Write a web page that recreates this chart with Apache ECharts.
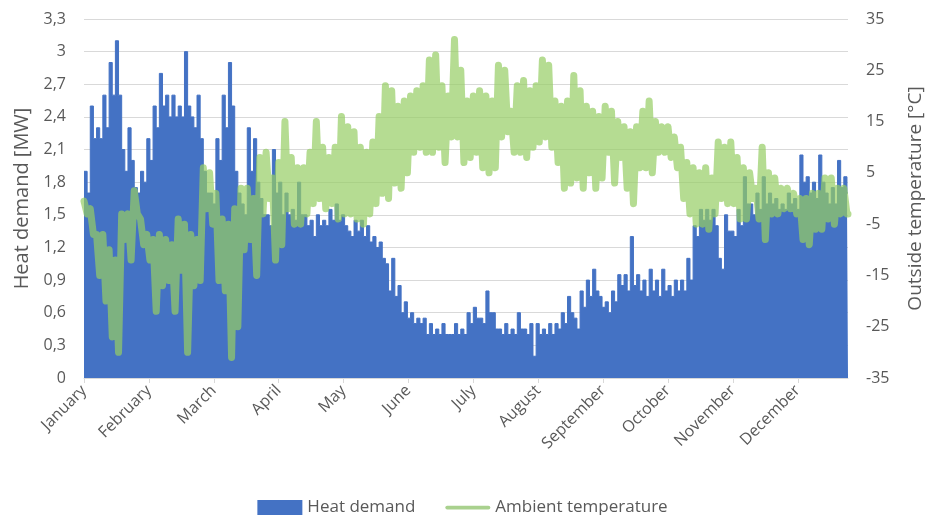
<!DOCTYPE html>
<html>
<head>
<meta charset="utf-8">
<title>Heat demand and ambient temperature</title>
<script src="https://cdn.jsdelivr.net/npm/echarts@6/dist/echarts.min.js"></script>
<style>
    html, body { margin: 0; padding: 0; background: #fff; }
    #heat_chart { width: 925px; height: 515px; }
</style>
</head>
<body>
<div id="heat_chart"></div>
<script>

// Chart data
// ------------------------------

// Month labels and the day on which each label sits (Excel ticks every 31 days)
var monthNames = ['January', 'February', 'March', 'April', 'May', 'June',
    'July', 'August', 'September', 'October', 'November', 'December'];
var monthTickDays = [0, 31, 62, 93, 124, 155, 186, 217, 248, 279, 310, 341];

// Each value covers 3 days: high in first half of the bin, low in second half
var binDays = 3;

// Heat demand [MW]
var heatHigh = [
    1.9, 2.5, 2.3, 2.6, 2.9, 3.1, 2.1, 2.3, 1.75, 1.9, 2.2, 2.5, 2.8, 2.6, 2.6, 2.5, 3.0, 2.4, 2.6, 1.9, 1.7,
    2.2, 2.6, 2.9, 1.9, 1.6, 2.3, 2.2, 1.65, 1.5, 2.1, 1.8, 1.7, 1.55, 1.8, 1.5, 1.45, 1.5, 1.45, 1.55, 1.6, 1.5,
    1.35, 1.45, 1.45, 1.4, 1.3, 1.25, 1.05, 1.1, 0.85, 0.7, 0.6, 0.55, 0.55, 0.5, 0.45, 0.5, 0.4, 0.5, 0.45, 0.6,
    0.65, 0.55, 0.8, 0.6, 0.45, 0.5, 0.45, 0.6, 0.45, 0.5, 0.5, 0.45, 0.5, 0.5, 0.6, 0.75, 0.55, 0.8, 0.9, 1.0, 0.75,
    0.7, 0.8, 0.95, 0.95, 1.3, 0.95, 0.9, 1.0, 0.9, 1.0, 0.85, 0.9, 0.9, 1.1, 1.4, 1.55, 1.55, 1.55, 1.1, 1.5, 1.35,
    1.55, 1.85, 1.6, 1.7, 1.85, 1.7, 1.65, 1.6, 1.7, 1.65, 2.05, 1.85, 1.8, 2.05, 1.7, 1.75, 2.0, 1.85
];
var heatLow = [
    1.7, 2.2, 2.2, 2.3, 2.6, 2.6, 1.9, 2.0, 1.7, 1.8, 2.0, 2.3, 2.5, 2.4, 2.4, 2.4, 2.5, 2.3, 2.2, 1.7, 1.6,
    2.0, 2.3, 2.5, 1.7, 1.5, 1.9, 1.8, 1.5, 1.4, 1.7, 1.5, 1.5, 1.45, 1.5, 1.4, 1.3, 1.4, 1.4, 1.45, 1.45, 1.4,
    1.3, 1.35, 1.3, 1.25, 1.2, 1.1, 0.8, 0.75, 0.6, 0.55, 0.5, 0.5, 0.4, 0.4, 0.4, 0.4, 0.4, 0.4, 0.4, 0.5,
    0.55, 0.5, 0.6, 0.45, 0.4, 0.4, 0.4, 0.45, 0.4, 0.2, 0.4, 0.4, 0.4, 0.45, 0.5, 0.6, 0.45, 0.65, 0.75, 0.8, 0.65,
    0.6, 0.7, 0.85, 0.8, 0.85, 0.8, 0.75, 0.8, 0.75, 0.8, 0.75, 0.8, 0.8, 0.9, 1.3, 1.45, 1.45, 1.4, 1.0, 1.35, 1.3,
    1.4, 1.6, 1.5, 1.55, 1.6, 1.6, 1.55, 1.55, 1.6, 1.55, 1.8, 1.7, 1.65, 1.8, 1.6, 1.6, 1.75, 1.7
];

// Ambient temperature [°C]
var tempHigh = [
    -0.5, -2, -7, -7, -10, -12, -3, -3, 1.5, -4, -7, -8, -7, -8, -9, -4, -5, -7, -8, 6, 5,
    1, -4, -5, -2, 2, 2, 0, 8, 9, 4, 7, 15, 8, 6, 6, 9, 15, 10, 8, 10, 16,
    14, 13, 10, 9, 11, 16, 22, 21, 18, 19, 20, 21, 22, 27, 28, 22, 20, 31, 25, 19,
    20, 21, 20, 19, 26, 25, 17, 22, 23, 21, 22, 27, 26, 19, 18, 19, 24, 21, 18, 17, 16,
    18, 17, 15, 14, 13, 14, 17, 19, 15, 14, 14, 12, 10, 7, 6, 5, 6, 4, 11, 10, 11,
    8, 6, 5, 2, 10, 5, 4, 2, 2, 1, 0, 0, 1, 1, 4, 4, 2, 2
];
var tempLow = [
    -3, -7, -15, -20, -27, -30, -8, -12, -3, -9, -12, -22, -17, -16, -22, -14, -30, -17, -16, -2, -5,
    -16, -18, -31, -25, -10, -8, -15, -3, 0, -12, -9, -2, -5, -5, -3, -1, 0, -2, -1, -4, -3,
    -3, -4, -5, -3, -1, 1, 0, 3, 2, 5, 9, 10, 9, 9, 10, 7, 12, 12, 7, 8,
    9, 6, 5, 6, 12, 13, 9, 9, 8, 10, 11, 12, 10, 7, 2, 3, 4, 2, 5, 2, 4,
    9, 3, 8, 2, -1, 6, 6, 5, 9, 9, 8, 6, 0, -3, -5, -5, -6, -3, 0, -1, -1,
    -4, -4, 0, -4, -8, -3, -3, -2, -2, -3, -8, -9, -6, -6, -4, -5, -3, -3
];


// Setup module
// ------------------------------

var HeatDemandChart = function() {

    // Turn high/low bins into [day, value] pairs
    var _toPoints = function(highs, lows) {
        var points = [];
        for (var i = 0; i < highs.length; i++) {
            points.push([i * binDays, highs[i]]);
            points.push([i * binDays + binDays / 2, lows[i]]);
        }
        points.push([365, lows[lows.length - 1]]);
        return points;
    };

    var _heatChart = function() {
        if (typeof echarts == 'undefined') {
            console.warn('Warning - echarts.min.js is not loaded.');
            return;
        }

        var heat_element = document.getElementById('heat_chart');
        if (!heat_element) {
            return;
        }

        var heat_chart = echarts.init(heat_element);

        var labelColor = '#595959';
        var fontFamily = '"Open Sans", "Noto Sans", sans-serif';

        heat_chart.setOption({

            animation: false,

            textStyle: {
                fontFamily: fontFamily
            },

            // Setup grid (fixed, do not shrink for axis names)
            grid: {
                left: 84,
                right: 77,
                top: 19,
                bottom: 137,
                outerBoundsMode: 'none'
            },

            // Add legend
            legend: {
                top: 494,
                left: 'center',
                itemWidth: 45,
                itemHeight: 15,
                itemGap: 30,
                textStyle: {
                    color: labelColor,
                    fontSize: 17,
                    fontFamily: fontFamily
                },
                data: [
                    { name: 'Heat demand', icon: 'rect' },
                    { name: 'Ambient temperature', icon: 'path://M2,0 H46 A2,2 0 0 1 46,4 H2 A2,2 0 0 1 2,0 Z' }
                ]
            },

            // Horizontal axis
            xAxis: {
                type: 'value',
                min: 0,
                max: 365,
                axisLine: {
                    lineStyle: { color: '#d9d9d9', width: 1 }
                },
                axisTick: {
                    show: true,
                    length: 5,
                    customValues: monthTickDays,
                    lineStyle: { color: '#d9d9d9' }
                },
                axisLabel: {
                    customValues: monthTickDays,
                    rotate: 45,
                    margin: 10,
                    color: labelColor,
                    fontSize: 16,
                    formatter: function(value) {
                        return monthNames[monthTickDays.indexOf(Math.round(value))] || '';
                    }
                },
                splitLine: { show: false }
            },

            // Vertical axes
            yAxis: [
                {
                    type: 'value',
                    min: 0,
                    max: 3.3,
                    interval: 0.3,
                    name: 'Heat demand [MW]',
                    nameLocation: 'middle',
                    nameGap: 52,
                    nameTextStyle: { color: labelColor, fontSize: 20 },
                    axisLine: { show: false },
                    axisTick: { show: false },
                    axisLabel: {
                        color: labelColor,
                        fontSize: 16,
                        margin: 18,
                        formatter: function(value) {
                            return String(Math.round(value * 10) / 10).replace('.', ',');
                        }
                    },
                    splitLine: {
                        lineStyle: { color: '#d9d9d9', width: 1 }
                    }
                },
                {
                    type: 'value',
                    min: -35,
                    max: 35,
                    interval: 10,
                    name: 'Outside temperature [°C]',
                    nameLocation: 'middle',
                    nameGap: 58,
                    nameTextStyle: { color: labelColor, fontSize: 19 },
                    axisLine: { show: false },
                    axisTick: { show: false },
                    axisLabel: {
                        color: labelColor,
                        fontSize: 16,
                        margin: 18
                    },
                    splitLine: { show: false }
                }
            ],

            // Add series
            series: [
                {
                    name: 'Heat demand',
                    type: 'line',
                    yAxisIndex: 0,
                    step: 'end',
                    showSymbol: false,
                    color: '#4472C4',
                    lineStyle: { color: '#4472C4', width: 1 },
                    areaStyle: { color: '#4472C4', opacity: 1 },
                    data: _toPoints(heatHigh, heatLow)
                },
                {
                    name: 'Ambient temperature',
                    type: 'line',
                    yAxisIndex: 1,
                    showSymbol: false,
                    color: '#A9D18E',
                    lineStyle: {
                        color: 'rgba(150,205,100,0.7)',
                        width: 7,
                        cap: 'round',
                        join: 'round'
                    },
                    data: _toPoints(tempHigh, tempLow)
                }
            ]
        });
    };

    return {
        init: function() {
            _heatChart();
        }
    }
}();


// Initialize module
// ------------------------------

document.addEventListener('DOMContentLoaded', function() {
    HeatDemandChart.init();
});
</script>
</body>
</html>
